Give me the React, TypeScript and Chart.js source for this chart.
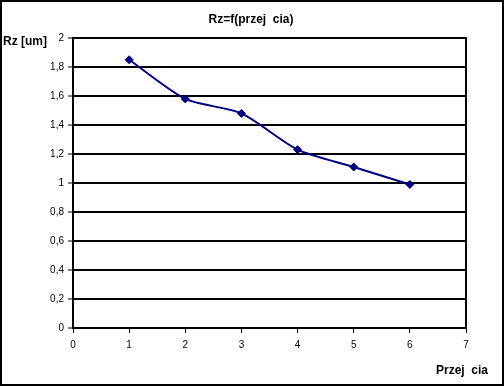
import React, { useEffect, useRef } from "react";
import { Chart, registerables } from "chart.js";

Chart.register(...registerables);

const chartTitle = "Rz=f(przej  cia)";
const yAxisTitle = "Rz [um]";
const xAxisTitle = "Przej  cia";
const xValues = [1, 2, 3, 4, 5, 6];
const rzValues = [1.85, 1.58, 1.48, 1.23, 1.11, 0.99];
const yTickLabels = ["0", "0,2", "0,4", "0,6", "0,8", "1", "1,2", "1,4", "1,6", "1,8", "2"];
const xTickLabels = ["0", "1", "2", "3", "4", "5", "6", "7"];

const FONT = "'Liberation Sans', Arial, sans-serif";

const framePlugin = {
  id: "frame",
  afterDraw(chart: any) {
    const { ctx, chartArea } = chart;
    ctx.save();
    ctx.strokeStyle = "#000";
    ctx.lineWidth = 2;
    ctx.strokeRect(1, 1, chart.width - 2, chart.height - 2);
    ctx.beginPath();
    ctx.moveTo(chartArea.right, chartArea.top - 1);
    ctx.lineTo(chartArea.right, chartArea.bottom + 1);
    ctx.stroke();
    ctx.fillStyle = "#000";
    ctx.font = `bold 12px ${FONT}`;
    ctx.textBaseline = "middle";
    ctx.textAlign = "center";
    ctx.fillText(chartTitle, 251, 20);
    ctx.textAlign = "left";
    ctx.fillText(yAxisTitle, 3, 42);
    ctx.textAlign = "right";
    ctx.fillText(xAxisTitle, 488, 371);
    ctx.restore();
  },
};

export default function App() {
  const ref = useRef<HTMLCanvasElement>(null);
  useEffect(() => {
    document.body.style.margin = "0";
    const canvas = ref.current!;
    const chart = new Chart(canvas, {
      type: "line",
      data: {
        datasets: [
          {
            data: xValues.map((x, i) => ({ x, y: rzValues[i] })),
            borderColor: "#000080",
            backgroundColor: "#000080",
            borderWidth: 2,
            pointStyle: "rectRot",
            pointRadius: 4,
            pointBorderWidth: 1,
            tension: 0.25,
            fill: false,
          },
        ],
      },
      options: {
        animation: false,
        responsive: false,
        devicePixelRatio: 1,
        layout: { padding: { left: 0, top: 38, right: 38, bottom: 0 } },
        plugins: {
          legend: { display: false },
          title: { display: false },
          tooltip: { enabled: false },
        },
        scales: {
          x: {
            type: "linear",
            min: 0,
            max: 7,
            afterFit: (s: any) => {
              s.height = 58;
            },
            afterBuildTicks: (s: any) => {
              s.ticks = xTickLabels.map((_, i) => ({ value: i }));
            },
            ticks: {
              color: "#000",
              font: { family: FONT, size: 10 },
              padding: 6,
              maxRotation: 0,
              callback: (_v: any, i: number) => xTickLabels[i],
            },
            grid: {
              drawOnChartArea: false,
              drawTicks: true,
              tickLength: 5,
              tickColor: "#000",
              tickWidth: 1,
            },
            border: { color: "#000", width: 2 },
          },
          y: {
            type: "linear",
            min: 0,
            max: 2,
            afterFit: (s: any) => {
              s.width = 73;
            },
            afterBuildTicks: (s: any) => {
              s.ticks = yTickLabels.map((_, i) => ({ value: i * 0.2 }));
            },
            ticks: {
              color: "#000",
              font: { family: FONT, size: 10 },
              padding: 4,
              callback: (_v: any, i: number) => yTickLabels[i],
            },
            grid: {
              color: "#000",
              lineWidth: 2,
              drawTicks: true,
              tickLength: 5,
              tickColor: "#000",
              tickWidth: 1,
            },
            border: { color: "#000", width: 2 },
          },
        },
      },
      plugins: [framePlugin],
    });
    return () => chart.destroy();
  }, []);
  return (
    <div style={{ width: 504, height: 386, background: "#fff" }}>
      <canvas ref={ref} width={504} height={386} style={{ display: "block" }} />
    </div>
  );
}
